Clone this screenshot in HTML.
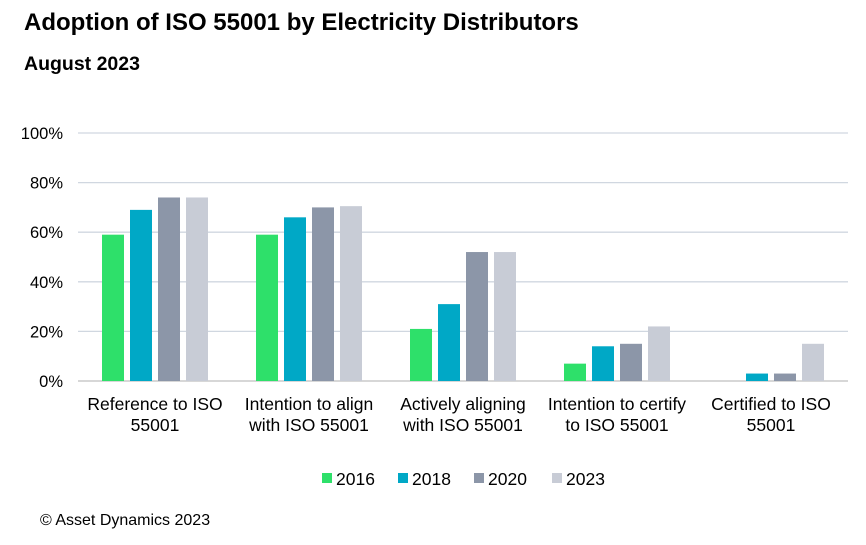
<!DOCTYPE html>
<html><head><meta charset="utf-8">
<style>
body{margin:0;background:#fff;font-family:"Liberation Sans",Arial,sans-serif;}
#wrap{position:relative;width:866px;height:545px;overflow:hidden;}
</style></head>
<body>
<div id="wrap">
<svg id="chart" width="866" height="545" xmlns="http://www.w3.org/2000/svg">
<text x="24" y="30" font-size="24" font-weight="bold" fill="#000">Adoption of ISO 55001 by Electricity Distributors</text>
<text x="24" y="70" font-size="19.5" font-weight="bold" fill="#000">August 2023</text>
<text x="40" y="525" font-size="16" fill="#000">© Asset Dynamics 2023</text>
<g id="grid"></g><g id="bars"></g><g id="labels"></g><g id="legend"></g>
</svg>
</div>
<script>
const categories=[["Reference to ISO","55001"],["Intention to align","with ISO 55001"],["Actively aligning","with ISO 55001"],["Intention to certify","to ISO 55001"],["Certified to ISO","55001"]];
const seriesNames=["2016","2018","2020","2023"];
const s2016=[59,59,21,7,0];
const s2018=[69,66,31,14,3];
const s2020=[74,70,52,15,3];
const s2023=[74,70.5,52,22,15];
const yTicks=[0,20,40,60,80,100];
const series=[s2016,s2018,s2020,s2023];
const colors=["#2ee06a","#00a8c6","#8c96a8","#c8ccd6"];
const NS="http://www.w3.org/2000/svg";
const x0=78,x1=848,yBase=381,yTop=133;
const y=v=>yBase-(v/100)*(yBase-yTop);
const bw=(x1-x0)/categories.length;
const xc=i=>x0+bw*(i+0.5);
function mk(t,a,p){const e=document.createElementNS(NS,t);for(const k in a)e.setAttribute(k,a[k]);p.appendChild(e);return e;}
const grid=document.getElementById('grid'),bars=document.getElementById('bars'),labels=document.getElementById('labels'),legend=document.getElementById('legend');
yTicks.forEach(t=>{
  const l=mk('line',{x1:x0,x2:x1,y1:y(t),y2:y(t),stroke:t===0?'#bfbfbf':'#d0d7e0','stroke-width':1.3},grid);
  
  
  const tx=mk('text',{x:63,y:y(t)+6,'font-size':16.5,'text-anchor':'end',fill:'#000'},grid);
  tx.textContent=t+'%';
  
  
});
const barW=22,step=28;
categories.forEach((c,i)=>{
  series.forEach((s,j)=>{
    const bx=xc(i)+(j-1.5)*step-barW/2;
    const r=mk('rect',{x:bx,y:y(s[i]),width:barW,height:yBase-y(s[i]),fill:colors[j]},bars);
    
    
  });
  c.forEach((line,k)=>{
    const t=mk('text',{x:xc(i),y:410+k*21,'font-size':17.5,'text-anchor':'middle',fill:'#000'},labels);
    t.textContent=line;
    
    
  });
});
const lx=[322,398,474,552];
seriesNames.forEach((n,j)=>{
  const g=mk('g',{},legend);
  
  
  mk('rect',{x:lx[j],y:473,width:10,height:10,fill:colors[j]},g);
  const t=mk('text',{x:lx[j]+14,y:485,'font-size':17.5,fill:'#000'},g);
  t.textContent=n;
});
</script>
</body></html>
